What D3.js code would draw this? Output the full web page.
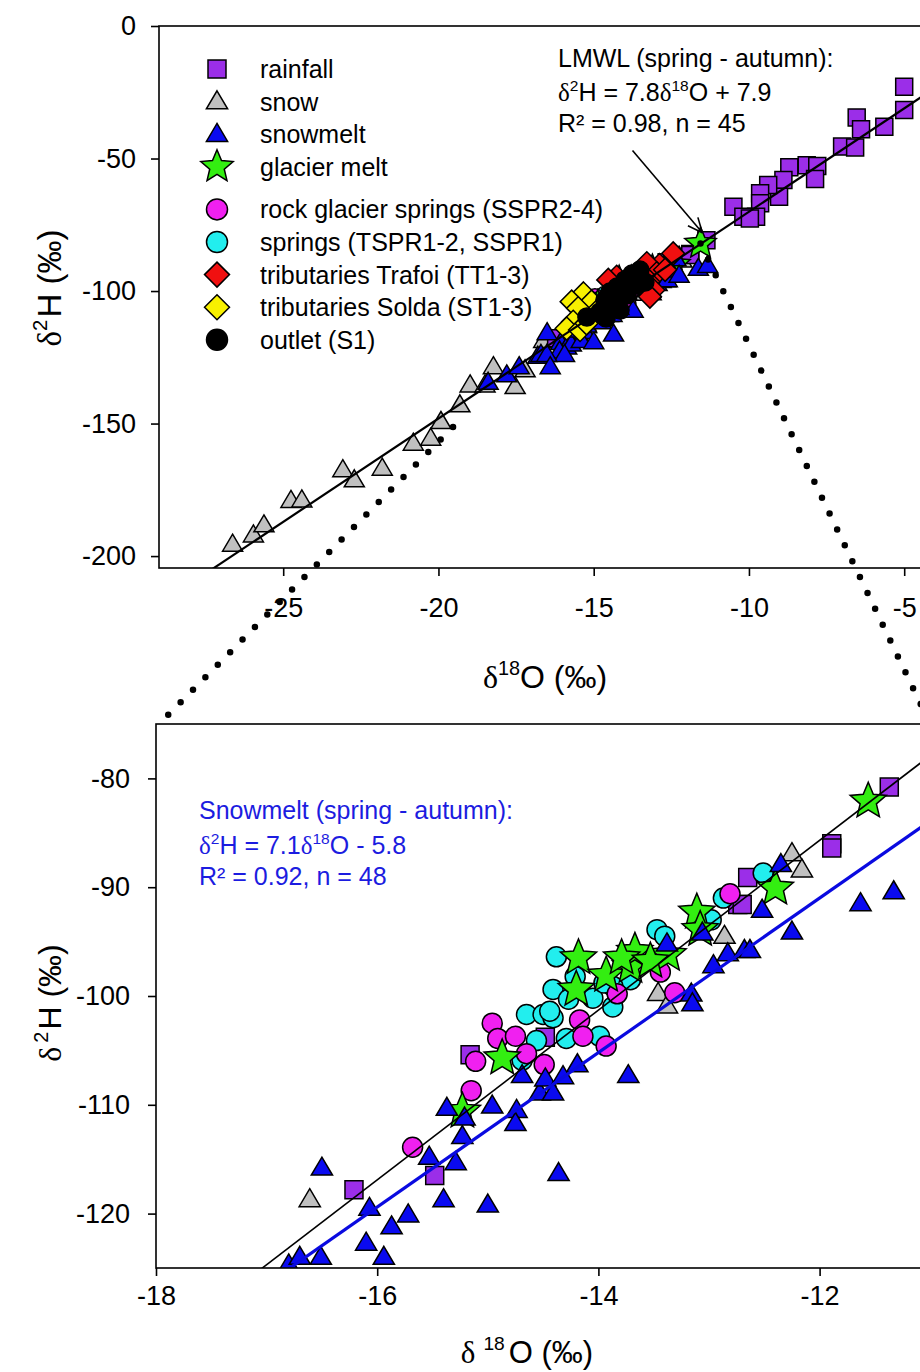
<!DOCTYPE html>
<html>
<head>
<meta charset="utf-8">
<script src="https://cdn.jsdelivr.net/npm/d3@7"></script>
<style>
  body { margin: 0; background: #fff; }
  svg { display: block; font-family: "Liberation Sans", Arial, sans-serif; }
</style>
</head>
<body>
<svg id="chart" width="920" height="1372"></svg>
<script>
// ---- data: [δ18O, δ2H] in ‰ ----
const rainfall = [
  [-5.0,-22.9],[-5.0,-31.7],[-5.64,-38.0],[-6.53,-34.5],[-6.39,-39.0],[-7.0,-45.5],[-6.58,-45.8],
  [-8.14,-52.5],[-7.80,-52.8],[-7.87,-57.7],[-8.70,-53.3],[-8.89,-58.1],[-9.03,-64.4],[-9.38,-60.0],
  [-9.64,-63.1],[-9.64,-66.9],[-9.77,-72.0],[-10.5,-68.2],[-10.18,-72.0],[-9.97,-72.6],
  [-11.37,-80.8],[-11.89,-86.0],[-11.89,-86.4],[-12.65,-89.1],[-12.74,-91.6],[-12.70,-91.6],
  [-14.48,-103.8],[-15.16,-105.4],[-15.48,-116.5],[-16.21,-117.8]
];
const snow = [
  [-26.63,-195.6],[-25.96,-192.1],[-25.62,-188.3],[-24.75,-179.1],[-24.40,-178.9],[-23.08,-167.5],
  [-22.71,-171.3],[-21.81,-166.9],[-20.81,-157.5],[-20.25,-155.6],[-19.92,-149.3],[-19.31,-143.0],
  [-18.98,-135.5],[-18.5,-135.5],[-18.23,-128.6],[-17.53,-136.1],[-17.21,-129.8],
  [-16.61,-118.7],[-12.25,-86.9],[-12.16,-88.4],[-12.86,-94.5],[-13.46,-99.75],[-13.38,-100.9]
];
const snowmelt = [
  [-16.50,-115.8],[-16.07,-119.5],[-15.87,-121.2],[-15.72,-120.1],[-16.10,-122.7],[-15.94,-124.0],
  [-16.80,-124.7],[-16.70,-124.0],[-16.51,-124.0],[-15.53,-114.8],[-15.29,-115.3],[-15.40,-118.7],
  [-15.00,-119.2],[-15.23,-112.9],[-15.21,-111.2],[-15.37,-110.3],[-14.96,-110.1],[-14.74,-110.5],
  [-14.75,-111.7],[-14.69,-107.3],[-14.53,-108.9],[-14.48,-107.6],[-14.36,-116.3],[-13.73,-107.3],
  [-14.19,-106.3],[-14.32,-107.4],[-14.41,-108.9],[-13.16,-99.8],[-13.15,-100.7],[-12.96,-97.2],
  [-13.38,-95.2],[-13.06,-94.2],[-12.83,-96.1],[-12.68,-95.8],[-12.63,-95.8],[-12.52,-92.1],
  [-12.35,-87.9],[-11.63,-91.5],[-11.33,-90.4],[-12.25,-94.1],
  [-18.4,-134.5],[-17.8,-131.7],[-17.4,-128.6],[-16.4,-128.6]
];
const glacierMelt = [
  [-11.56,-82.1],[-12.40,-90.1],[-13.11,-92.3],[-13.08,-93.9],[-14.18,-96.5],[-13.93,-98.1],
  [-14.20,-99.4],[-13.71,-97.3],[-13.67,-95.9],[-13.79,-96.5],[-13.37,-96.2],[-13.53,-96.8],
  [-14.87,-105.7],[-15.23,-110.6]
];
const rockGlacierSprings = [
  [-14.96,-102.5],[-14.91,-103.9],[-14.75,-103.7],[-14.65,-105.3],[-15.11,-106.0],[-15.15,-108.7],
  [-15.68,-113.9],[-14.49,-106.3],[-12.81,-90.6],[-13.44,-97.8],[-13.31,-99.7],[-14.17,-102.2],
  [-14.14,-103.7],[-13.93,-104.6],[-13.83,-99.8]
];
const springs = [
  [-14.38,-96.4],[-14.41,-99.4],[-14.65,-101.7],[-14.50,-101.7],[-14.41,-102.0],[-14.56,-104.1],
  [-14.29,-103.9],[-14.69,-105.9],[-14.21,-98.2],[-14.44,-101.4],[-13.99,-103.7],[-13.87,-101.0],
  [-13.71,-98.5],[-13.47,-93.9],[-13.40,-94.5],[-12.98,-93.0],[-12.87,-91.0],[-12.51,-88.7],
  [-13.87,-99.1],[-14.27,-100.3],[-14.05,-100.2],[-13.95,-98.8]
];
const tributariesTrafoi = [
  [-12.44,-85.8],[-12.88,-90.2],[-13.29,-89.5],[-12.97,-93.3],[-13.24,-96.5],[-13.51,-97.1],
  [-14.26,-94.6],[-14.53,-95.8],[-13.08,-99.6],[-13.19,-102.1],[-13.8,-96.0],[-12.7,-92.0],[-13.4,-94.0]
];
const tributariesSolda = [
  [-15.33,-100.9],[-15.71,-104.0],[-15.07,-104.0],[-15.50,-106.5],[-14.80,-106.5],
  [-15.66,-111.6],[-15.87,-114.1],[-15.44,-114.7],[-15.23,-112.2]
];
const outlet = [
  [-15.22,-109.8],[-14.80,-107.9],[-14.64,-103.4],[-14.48,-100.4],[-14.25,-98.5],[-13.99,-95.8],
  [-13.77,-93.6],[-13.51,-92.1],[-13.64,-97.7],[-13.93,-101.5],[-14.31,-105.3],[-14.60,-110.2],
  [-14.15,-107.2],[-13.35,-96.6]
];

// regression lines: δ2H = slope·δ18O + intercept
const lmwl = { slope: 7.8, intercept: 7.9 };
const snowmeltFit = { slope: 7.1, intercept: -5.8 };

// axis ticks
const topXTicks = [-25, -20, -15, -10, -5];
const topYTicks = [0, -50, -100, -150, -200];
const botXTicks = [-18, -16, -14, -12];
const botYTicks = [-80, -90, -100, -110, -120];

// ---- series styling (drawing order) ----
const series = [
  { label: "snow", data: snow, shape: "triangle", fill: "#c0c0c0" },
  { label: "rainfall", data: rainfall, shape: "square", fill: "#9b2ee8" },
  { label: "springs (TSPR1-2, SSPR1)", data: springs, shape: "circle", fill: "#22eeee" },
  { label: "rock glacier springs (SSPR2-4)", data: rockGlacierSprings, shape: "circle", fill: "#f020f0" },
  { label: "glacier melt", data: glacierMelt, shape: "star", fill: "#33ee11" },
  { label: "snowmelt", data: snowmelt, shape: "triangle", fill: "#0a0af0" },
  { label: "tributaries Trafoi (TT1-3)", data: tributariesTrafoi, shape: "diamond", fill: "#f01010", topOnly: true },
  { label: "tributaries Solda (ST1-3)", data: tributariesSolda, shape: "diamond", fill: "#f8f000", topOnly: true },
  { label: "outlet (S1)", data: outlet, shape: "circle", fill: "#000000", topOnly: true }
];
const legendOrder = ["rainfall", "snow", "snowmelt", "glacier melt", "rock glacier springs (SSPR2-4)",
  "springs (TSPR1-2, SSPR1)", "tributaries Trafoi (TT1-3)", "tributaries Solda (ST1-3)", "outlet (S1)"];

// ---- marker shapes ----
function shapePath(shape, s) {
  if (shape === "square") return `M${-s/2},${-s/2}h${s}v${s}h${-s}Z`;
  if (shape === "triangle") { const w = s * 1.18; return `M0,${-s*0.6}L${w/2},${s*0.4}L${-w/2},${s*0.4}Z`; }
  if (shape === "diamond") return `M0,${-s}L${s},0L0,${s}L${-s},0Z`;
  if (shape === "circle") { const p = d3.path(); p.arc(0, 0, s, 0, 2 * Math.PI); p.closePath(); return p.toString(); }
  if (shape === "star") {
    let p = "";
    for (let i = 0; i < 10; i++) {
      const a = -Math.PI / 2 + i * Math.PI / 5, rr = i % 2 ? s * 0.45 : s;
      p += (i ? "L" : "M") + (rr * Math.cos(a)).toFixed(2) + "," + (rr * Math.sin(a)).toFixed(2);
    }
    return p + "Z";
  }
}
const topSizes = { square: 17, triangle: 17, circle: 9, diamond: 11.5, star: 16.5 };
const botSizes = { square: 18, triangle: 18, circle: 10, diamond: 11, star: 19 };
const legSizes = { square: 18, triangle: 18, circle: 10.5, diamond: 12.5, star: 17 };

const svg = d3.select("#chart");
const defs = svg.append("defs");

// rich text helper: parts = [text | {t, sup, serif}]
function richText(sel, parts, fs) {
  let raised = false;
  parts.forEach(p => {
    const o = typeof p === "string" ? { t: p } : p;
    const ts = sel.append("tspan").text(o.t);
    if (o.serif) ts.attr("font-family", "'Liberation Serif', 'DejaVu Serif', serif");
    if (o.sup) { ts.attr("font-size", fs * 0.62).attr("dy", raised ? 0 : -fs * 0.42); raised = true; if (o.dx) ts.attr("dx", o.dx); }
    else if (raised) { ts.attr("dy", fs * 0.42); raised = false; if (o.dx) ts.attr("dx", o.dx); }
    else if (o.dx) ts.attr("dx", o.dx);
  });
}

// ---- panels ----
function panel(cfg) {
  const { id, x, y, xTicks, yTicks, sizes, yPad, xPad, includeTopOnly } = cfg;
  const [x0, x1] = x.range(), [y1, y0] = [y.range()[0], y.range()[1]];
  defs.append("clipPath").attr("id", id).append("rect")
    .attr("x", x0).attr("y", y1).attr("width", x1 - x0).attr("height", y0 - y1);

  const g = svg.append("g");
  const plot = g.append("g").attr("clip-path", `url(#${id})`);

  series.filter(s => includeTopOnly || !s.topOnly).forEach(s => {
    plot.append("g").selectAll("path").data(s.data).join("path")
      .attr("d", shapePath(s.shape, sizes[s.shape]))
      .attr("transform", d => `translate(${x(d[0])},${y(d[1])})`)
      .attr("fill", s.fill).attr("stroke", "#000").attr("stroke-width", 1.5)
      .attr("stroke-linejoin", "miter");
  });

  const dom = x.domain();
  (cfg.lines || []).forEach(L => {
    plot.append("line")
      .attr("x1", x(dom[0])).attr("y1", y(L.fit.slope * dom[0] + L.fit.intercept))
      .attr("x2", x(dom[1])).attr("y2", y(L.fit.slope * dom[1] + L.fit.intercept))
      .attr("stroke", L.color).attr("stroke-width", L.width);
  });

  // frame
  g.append("rect").attr("x", x0).attr("y", y1).attr("width", x1 - x0).attr("height", y0 - y1)
    .attr("fill", "none").attr("stroke", "#000").attr("stroke-width", 1.6);

  const fmt = d => String(d);
  const ax = g.append("g").attr("transform", `translate(0,${y0})`)
    .call(d3.axisBottom(x).tickValues(xTicks).tickFormat(fmt).tickSize(8).tickPadding(xPad));
  const ay = g.append("g").attr("transform", `translate(${x0},0)`)
    .call(d3.axisLeft(y).tickValues(yTicks).tickFormat(fmt).tickSize(8).tickPadding(yPad));
  [ax, ay].forEach(a => {
    a.select(".domain").remove();
    a.selectAll("line").attr("stroke", "#000").attr("stroke-width", 1.6);
    a.selectAll("text").attr("font-size", 27).attr("fill", "#000")
      .attr("font-family", "'Liberation Sans', Arial, sans-serif");
  });
  return g;
}

// top panel: full range
const xTop = d3.scaleLinear().domain([-29, -4]).range([159, 935.25]);
const yTop = d3.scaleLinear().domain([0, -204.5]).range([26, 568]);
panel({
  id: "clipTop", x: xTop, y: yTop, xTicks: topXTicks, yTicks: topYTicks, sizes: topSizes,
  xPad: 22, yPad: 15, includeTopOnly: true,
  lines: [{ fit: lmwl, color: "#000", width: 2.2 }]
});

// bottom panel: enlarged detail
const xBot = d3.scaleLinear().domain([-18, -11]).range([156, 930.2]);
const yBot = d3.scaleLinear().domain([-75, -125]).range([724, 1268]);
panel({
  id: "clipBot", x: xBot, y: yBot, xTicks: botXTicks, yTicks: botYTicks, sizes: botSizes,
  xPad: 10, yPad: 18, includeTopOnly: false,
  lines: [{ fit: lmwl, color: "#000", width: 1.6 }, { fit: snowmeltFit, color: "#0a0ae0", width: 3.2 }]
});

// ---- legend ----
const legend = svg.append("g");
legendOrder.forEach((name, i) => {
  const s = series.find(d => d.label === name);
  const yy = 69 + i * 32.6 + (i >= 4 ? 10 : 0);
  legend.append("path").attr("d", shapePath(s.shape, legSizes[s.shape]))
    .attr("transform", `translate(217,${yy})`)
    .attr("fill", s.fill).attr("stroke", "#000").attr("stroke-width", 1.5);
  legend.append("text").attr("x", 260).attr("y", yy + 9).attr("font-size", 25).text(name);
});

// ---- LMWL annotation and arrow ----
const ann = svg.append("g").attr("font-size", 25).attr("fill", "#000");
ann.append("text").attr("x", 558).attr("y", 67).text("LMWL (spring - autumn):");
richText(ann.append("text").attr("x", 558).attr("y", 101),
  [{ t: "δ", serif: true }, { t: "2", sup: true }, "H = 7.8", { t: "δ", serif: true }, { t: "18", sup: true }, "O + 7.9"], 25);
ann.append("text").attr("x", 558).attr("y", 132).text("R² = 0.98, n = 45");

const tail = [xTop(-13.75), yTop(-47)], tip = [xTop(-11.5), yTop(-78)];
const ang = Math.atan2(tip[1] - tail[1], tip[0] - tail[0]);
const arrow = svg.append("g").attr("stroke", "#000").attr("stroke-width", 1.6).attr("fill", "none");
arrow.append("line").attr("x1", tail[0]).attr("y1", tail[1]).attr("x2", tip[0]).attr("y2", tip[1]);
[-0.42, 0.42].forEach(da => {
  arrow.append("line").attr("x1", tip[0]).attr("y1", tip[1])
    .attr("x2", tip[0] - 16 * Math.cos(ang + da)).attr("y2", tip[1] - 16 * Math.sin(ang + da));
});

// ---- snowmelt annotation ----
const ann2 = svg.append("g").attr("font-size", 25).attr("fill", "#1c1ce0");
ann2.append("text").attr("x", 199).attr("y", 819).text("Snowmelt (spring - autumn):");
richText(ann2.append("text").attr("x", 199).attr("y", 854),
  [{ t: "δ", serif: true }, { t: "2", sup: true }, "H = 7.1", { t: "δ", serif: true }, { t: "18", sup: true }, "O - 5.8"], 25);
ann2.append("text").attr("x", 199).attr("y", 885).text("R² = 0.92, n = 48");

// ---- dotted zoom connectors ----
const conn = svg.append("g").attr("stroke", "#000").attr("stroke-width", 6.5)
  .attr("stroke-linecap", "round").attr("stroke-dasharray", "0 17.6").attr("fill", "none");
conn.append("line").attr("x1", xTop(-19.53)).attr("y1", yTop(-151.3))
  .attr("x2", xBot(-18) + 3).attr("y2", yBot(-75));
conn.append("line").attr("x1", xTop(glacierMelt[0][0])).attr("y1", yTop(glacierMelt[0][1]))
  .attr("x2", xBot(-11)).attr("y2", yBot(-75));

// ---- axis titles ----
function title(x, y, rotate, parts, fs) {
  const t = svg.append("text").attr("font-size", fs).attr("text-anchor", "middle")
    .attr("transform", `translate(${x},${y})${rotate ? " rotate(-90)" : ""}`);
  richText(t, parts, fs);
}
title(545, 688, false, [{ t: "δ", serif: true }, { t: "18", sup: true }, "O (‰)"], 32);
title(61, 288, true, [{ t: "δ", serif: true }, { t: "2", sup: true }, { t: "H (‰)", dx: 2 }], 33);
title(527, 1363, false, [{ t: "δ", serif: true }, { t: "18", sup: true, dx: 8 }, { t: "O (‰)", dx: 4 }], 31);
title(61, 1003, true, [{ t: "δ", serif: true }, { t: "2", sup: true, dx: 4 }, { t: "H (‰)", dx: 2 }], 32);
</script>
</body>
</html>
